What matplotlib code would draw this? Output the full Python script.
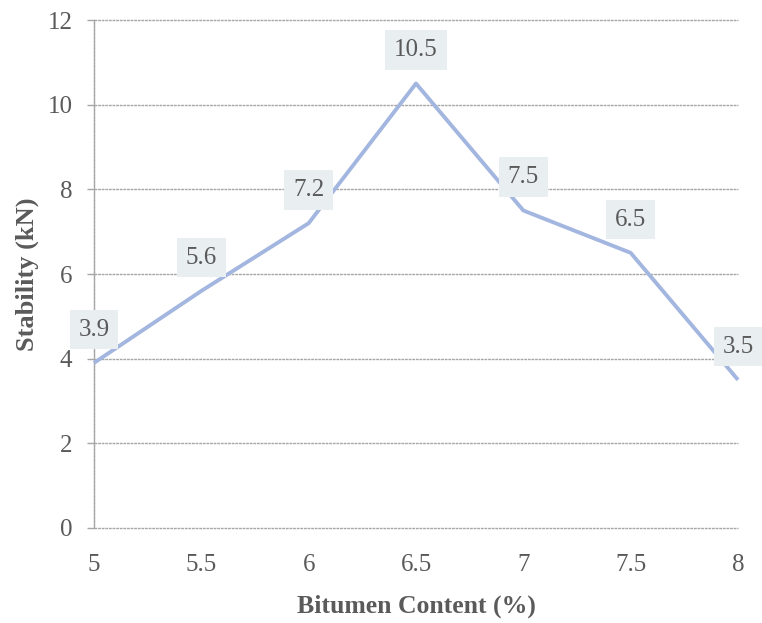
import matplotlib
matplotlib.use("Agg")
import matplotlib.pyplot as plt

bitumen = [5, 5.5, 6, 6.5, 7, 7.5, 8]
stability = [3.9, 5.6, 7.2, 10.5, 7.5, 6.5, 3.5]
x_ticks = [5, 5.5, 6, 6.5, 7, 7.5, 8]
x_tick_labels = ["5", "5.5", "6", "6.5", "7", "7.5", "8"]
y_ticks = [0, 2, 4, 6, 8, 10, 12]

plt.rcParams['font.family'] = ['Liberation Serif', 'DejaVu Serif']
text_color = '#5a5a5a'
grid_color = '#a6a6a6'

fig = plt.figure(figsize=(7.62, 6.23), dpi=100)
ax = fig.add_axes([94/762, 1-528/623, (738-94)/762, (528-20)/623])

ax.set_xlim(5, 8)
ax.set_ylim(0, 12)
ax.set_xticks(x_ticks)
ax.set_xticklabels(x_tick_labels)
ax.set_yticks(y_ticks)

ax.yaxis.grid(True, color=grid_color, linewidth=1.0, linestyle=(0, (2, 0.6)))
for gl in ax.get_ygridlines():
    gl.set_clip_on(False)
ax.set_axisbelow(True)
for s in ['top', 'right', 'bottom']:
    ax.spines[s].set_visible(False)
ax.spines['left'].set_color(grid_color)
ax.spines['left'].set_linewidth(1.0)
ax.spines['left'].set_linestyle((0, (2, 0.6)))

ax.tick_params(axis='y', length=5, width=1.0, color=grid_color, pad=10.5,
               labelsize=18, labelcolor=text_color)
ax.tick_params(axis='x', length=0, pad=19, labelsize=18, labelcolor=text_color)

ax.plot(bitumen, stability, color='#a3b6e0', linewidth=2.8, solid_capstyle='butt',
        clip_on=False, zorder=3)

for xv, yv in zip(bitumen, stability):
    ax.annotate(f"{yv}", (xv, yv), xytext=(0, 24), textcoords='offset points',
                ha='center', va='center', fontsize=18, color=text_color,
                bbox=dict(boxstyle='square,pad=0.35', fc='#e9eef1', ec='none'),
                annotation_clip=False, zorder=4)

ax.set_xlabel("Bitumen Content (%)", fontsize=18.5, fontweight='bold',
              color=text_color, labelpad=13)
ax.set_ylabel("Stability (kN)", fontsize=19, fontweight='bold',
              color=text_color, labelpad=6)

fig.savefig("out.png", dpi=100)
